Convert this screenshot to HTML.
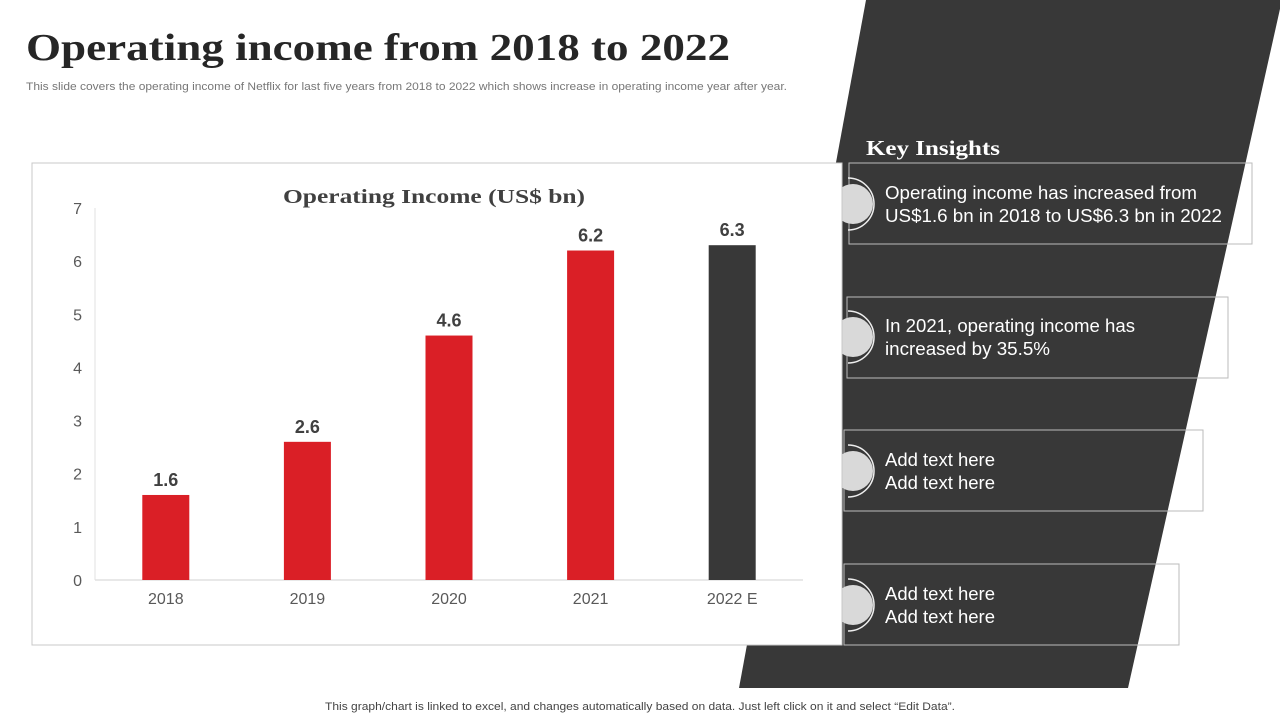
<!DOCTYPE html>
<html><head><meta charset="utf-8"><style>
body{margin:0;width:1280px;height:720px;background:#fff;overflow:hidden;font-family:"Liberation Sans",sans-serif;}
svg{display:block}
</style></head><body>
<svg width="1280" height="720">
<polygon points="866,0 1282,0 1128,688 739,688" fill="#383838"/>
<text x="26" y="60" font-family="Liberation Serif,serif" font-weight="bold" font-size="38" fill="#262626" textLength="704" lengthAdjust="spacingAndGlyphs">Operating income from 2018 to 2022</text>
<text x="26" y="90" font-size="11" fill="#777" textLength="761" lengthAdjust="spacingAndGlyphs">This slide covers the operating income of Netflix for last five years from 2018 to 2022 which shows increase in operating income year after year.</text>
<text x="866" y="155" font-family="Liberation Serif,serif" font-weight="bold" font-size="21" fill="#fff" textLength="134" lengthAdjust="spacingAndGlyphs">Key Insights</text>
<g id="insights"></g>
<rect x="32" y="163" width="810" height="482" fill="#fff" stroke="#c8c8c8"/>
<text x="434" y="203" text-anchor="middle" font-family="Liberation Serif,serif" font-weight="bold" font-size="20" fill="#404040" textLength="302" lengthAdjust="spacingAndGlyphs">Operating Income (US$ bn)</text>
<g id="chart"></g>
<text x="640" y="710" text-anchor="middle" font-size="11" fill="#444" textLength="630" lengthAdjust="spacingAndGlyphs">This graph/chart is linked to excel, and changes automatically based on data. Just left click on it and select “Edit Data”.</text>
</svg>
<script>
const categories=["2018","2019","2020","2021","2022 E"];
const values=[1.6,2.6,4.6,6.2,6.3];
const colors=["#da1f26","#da1f26","#da1f26","#da1f26","#383838"];
const yTicks=[0,1,2,3,4,5,6,7];
const NS="http://www.w3.org/2000/svg";
const g=document.getElementById("chart");
const x0=95,x1=803,yBase=580,yTop=208,yMax=7;
const y=v=>yBase-(yBase-yTop)*v/yMax;
const band=(x1-x0)/categories.length;
const xc=i=>x0+band*(i+0.5);
function mk(t,a,txt){const e=document.createElementNS(NS,t);for(const k in a)e.setAttribute(k,a[k]);if(txt!=null)e.textContent=txt;g.appendChild(e);return e;}
yTicks.forEach(t=>{const e=mk("text",{x:82,y:y(t)+6,"text-anchor":"end","font-size":16,fill:"#595959"},t);

});
const ax=mk("line",{x1:x0,x2:x1,y1:yBase,y2:yBase,stroke:"#d0d0d0"});


const ay=mk("line",{x1:x0,x2:x0,y1:yTop,y2:yBase,stroke:"#e0e0e0"});


categories.forEach((c,i)=>{
const b=mk("rect",{x:xc(i)-23.5,y:y(values[i]),width:47,height:yBase-y(values[i]),fill:colors[i]});


const l=mk("text",{x:xc(i),y:y(values[i])-9,"text-anchor":"middle","font-size":18,"font-weight":"bold",fill:"#404040"},values[i].toFixed(1));


const t=mk("text",{x:xc(i),y:604,"text-anchor":"middle","font-size":16,fill:"#595959"},c);


});
const ins=document.getElementById("insights");
const boxes=[[849,163,1252,244,204,["Operating income has increased from","US$1.6 bn in 2018 to US$6.3 bn in 2022"],[312,337]],
[847,297,1228,378,337,["In 2021, operating income has","increased by 35.5%"],[250,165]],
[844,430,1203,511,471,["Add text here","Add text here"],[110,110]],
[844,564,1179,645,605,["Add text here","Add text here"],[110,110]]];
boxes.forEach((b,i)=>{
const r=document.createElementNS(NS,"rect");


r.setAttribute("x",b[0]);r.setAttribute("y",b[1]);r.setAttribute("width",b[2]-b[0]);r.setAttribute("height",b[3]-b[1]);r.setAttribute("fill","none");r.setAttribute("stroke","#bbb");ins.appendChild(r);
const c=document.createElementNS(NS,"circle");


c.setAttribute("cx",853);c.setAttribute("cy",b[4]);c.setAttribute("r",20);c.setAttribute("fill","#d9d9d9");ins.appendChild(c);
const a=document.createElementNS(NS,"path");


const cy=b[4];a.setAttribute("d",`M848 ${cy-26} A26 26 0 0 1 848 ${cy+26}`);a.setAttribute("fill","none");a.setAttribute("stroke","#eee");a.setAttribute("stroke-width","1.5");ins.appendChild(a);
b[5].forEach((s,j)=>{const t=document.createElementNS(NS,"text");


t.setAttribute("x",885);t.setAttribute("y",cy-5+j*23);t.setAttribute("font-size",18);t.setAttribute("fill","#fff");t.setAttribute("textLength",b[6][j]);t.setAttribute("lengthAdjust","spacingAndGlyphs");t.textContent=s;ins.appendChild(t);});
});
</script>
</body></html>
